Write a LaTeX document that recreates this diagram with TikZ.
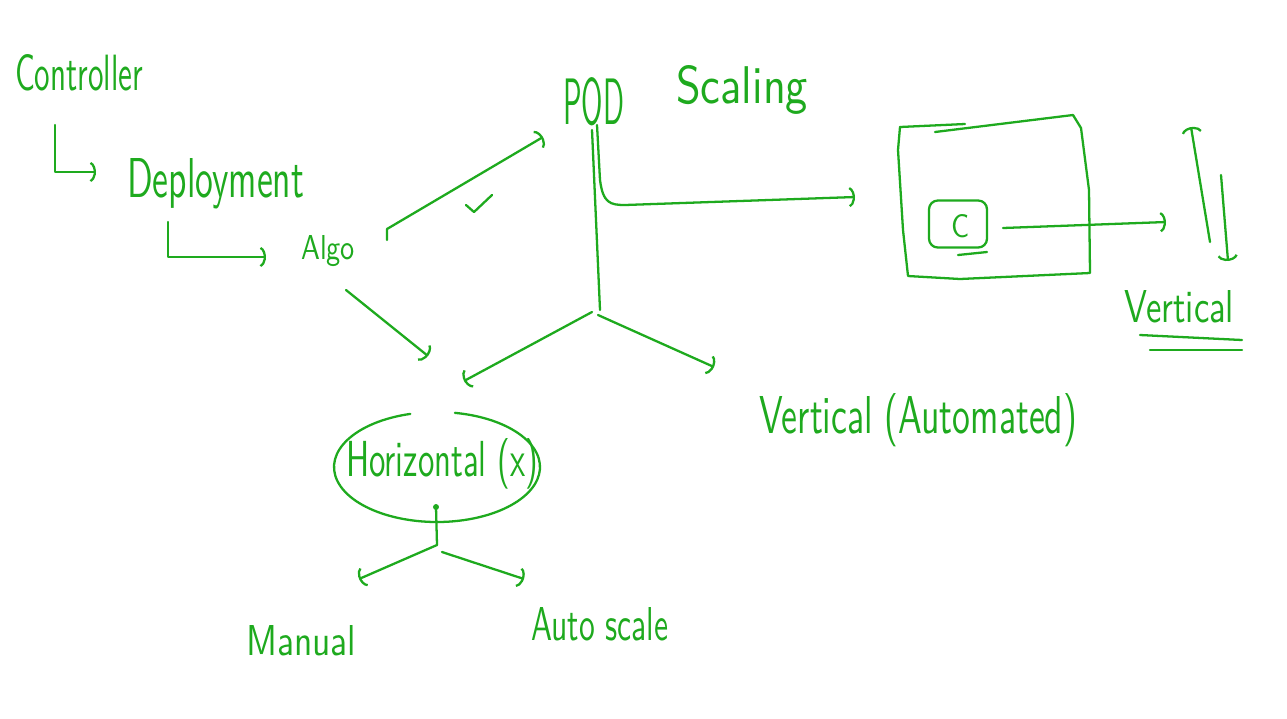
\documentclass[tikz,border=0pt]{standalone}
\usepackage{graphicx}
\usetikzlibrary{arrows.meta,shapes.geometric}
\definecolor{ink}{RGB}{30,170,30}
\newlength{\pxu}\setlength{\pxu}{0.02cm}
\newcommand{\hwtext}[3]{\resizebox{#1\pxu}{#2\pxu}{\sffamily #3}}
\begin{document}
\begin{tikzpicture}[x=0.02cm,y=-0.02cm,color=ink,line width=1.3pt,line cap=round,line join=round,
  lbl/.style={inner sep=0,anchor=base west},
  arr/.style={-{Arc Barb[length=4pt,width=12pt,arc=150]}}]
\fill[white] (0,0) rectangle (1287,718);
\useasboundingbox (0,0) rectangle (1287,718);
% texts
\node[lbl] (controller) at (14,90) {\hwtext{128}{36}{Controller}};
\node[lbl] (deployment) at (126,197) {\hwtext{177}{39}{Deployment}};
\node[lbl] (algo) at (300,259) {\hwtext{54}{24}{Algo}};
\node[lbl] (pod) at (562,124) {\hwtext{61}{47}{POD}};
\node[lbl] (scaling) at (675,103) {\hwtext{132}{38}{Scaling}};
\node[lbl] (horiz) at (345,476) {\hwtext{192}{38}{Horizontal (x)}};
\node[lbl] (manual) at (245,655) {\hwtext{110}{30}{Manual}};
\node[lbl] (autoscale) at (530,640) {\hwtext{137}{33}{Auto scale}};
\node[lbl] (vauto) at (758,433) {\hwtext{318}{40}{Vertical (Automated)}};
\node[lbl] (vert) at (1123,322) {\hwtext{110}{32}{Vertical}};
\node[lbl] (c) at (950,237) {\hwtext{18}{23}{C}};
\node[draw,rounded corners=5pt,minimum width=1.16cm,minimum height=0.94cm,inner sep=0] (cbox) at (958,224) {};
% ellipse round Horizontal
\node[ellipse,minimum width=4.12cm,minimum height=2.2cm,inner sep=0] (hell) at (437,467) {};
\draw ([shift={(105:2.06cm and 1.1cm)}]hell.center) arc[start angle=105,end angle=440,x radius=2.06cm,y radius=1.1cm];
% coordinates
\coordinate (ctl1) at (55,125); \coordinate (ctl2) at (96,172);
\coordinate (dep1) at (168,222); \coordinate (dep2) at (266,257);
\coordinate (a1) at (387,240); \coordinate (a2) at (387,229); \coordinate (p1) at (543,137);
\coordinate (a3) at (346,290); \coordinate (h1) at (428,356);
\coordinate (pv1) at (592,130); \coordinate (pv2) at (600,310);
\coordinate (pr1) at (597,125); \coordinate (pr2) at (855,197);
\coordinate (bl1) at (592,312); \coordinate (bl2) at (464,381);
\coordinate (br1) at (598,315); \coordinate (br2) at (714,367);
\coordinate (cb1) at (1003,228); \coordinate (cb2) at (1166,222);
\coordinate (vu1) at (1210,242); \coordinate (vu2) at (1191,127);
\coordinate (vd1) at (1221,175); \coordinate (vd2) at (1228,261);
\coordinate (hdot) at (436,507); \coordinate (hst) at (437,545);
\coordinate (hl) at (359,579); \coordinate (hr1) at (442,552); \coordinate (hr2) at (524,579);
% connectors
\draw[arr] (ctl1) |- (ctl2);
\draw[arr] (dep1) |- (dep2);
\draw[arr] (a1) -- (a2) -- (p1);
\draw (466,205) -- (474,212) -- (492,195);
\draw[arr] (a3) -- (h1);
\draw (pv1) -- (pv2);
\draw[arr] (pr1) -- (600,180) .. controls (603,203) and (610,205) .. (625,205) -- (pr2);
\draw[arr] (bl1) -- (bl2);
\draw[arr] (br1) -- (br2);
\draw[arr] (cb1) -- (cb2);
\draw[arr] (vu1) -- (vu2);
\draw[arr] (vd1) -- (vd2);
\draw (1140,335) -- (1242,340);
\draw (1150,350) -- (1242,350);
\fill (hdot) circle (1.7pt);
\draw (hdot) -- (hst);
\draw[arr] (hst) -- (hl);
\draw[arr] (hr1) -- (hr2);
% big box
\draw (900,127) -- (965,124);
\draw (935,132) -- (1073,115) -- (1081,128) -- (1089,190) -- (1090,273) -- (960,279) -- (908,276) -- (903,230) -- (898,150) -- (900,127);
\draw (958,255) -- (987,252);
\end{tikzpicture}
\end{document}
